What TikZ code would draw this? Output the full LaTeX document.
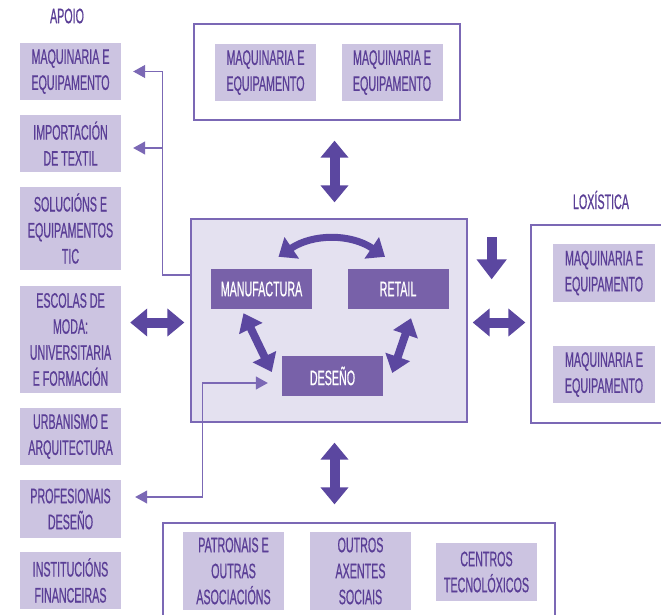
\documentclass[tikz,border=0pt]{standalone}
\usepackage{fontspec}
\setmainfont{Liberation Sans}[FakeStretch=0.51,FakeBold=0.6]
\usetikzlibrary{arrows.meta,calc}
\definecolor{lilac}{HTML}{CCC4E1}
\definecolor{ink}{HTML}{5A3E96}
\definecolor{plum}{HTML}{7861A9}
\definecolor{arrowc}{HTML}{5B47A0}
\definecolor{edge}{HTML}{7B68B5}
\definecolor{mist}{HTML}{E4E1F0}
\newcommand\boxtxt{\fontsize{21}{26}\selectfont}
\tikzset{
	lbox/.style={fill=lilac,text=ink,minimum width=101pt,minimum height=57pt,inner sep=0pt,align=center,font=\boxtxt},
	dbox/.style={fill=plum,text=white,minimum width=101pt,minimum height=40pt,inner sep=0pt,font=\boxtxt},
	frame/.style={draw=edge,line width=1.3pt,inner sep=0pt},
	fat/.style={draw=arrowc,line width=10pt},
	both/.style={{Triangle[width=27pt,length=17pt]}-{Triangle[width=27pt,length=17pt]}},
	link/.style={draw=edge,line width=1.1pt}
}

\begin{document}
\begin{tikzpicture}[x=1pt,y=-1pt]
	\fill[white] (0,0) rectangle (661,615);
	\useasboundingbox (0,0) rectangle (661,615);

	% frames
	\node[frame,minimum width=266pt,minimum height=96pt] (topbox) at (327,72) {};
	\node[frame,fill=mist,minimum width=276pt,minimum height=203pt] (core) at (329,320.5) {};
	\node[frame,minimum width=140pt,minimum height=198pt] (logbox) at (601,324) {};
	\node[frame,minimum width=392pt,minimum height=102pt] (botbox) at (359,574) {};

	% titles
	\node[text=ink,font=\boxtxt] (apoio) at (67,16) {APOIO};
	\node[text=ink,font=\boxtxt] (lox) at (601,200) {LOXÍSTICA};

	% apoio column
	\node[lbox] (maq) at (70.5,71.5) {MAQUINARIA E\\EQUIPAMENTO};
	\node[lbox] (imp) at (70.5,143.5) {IMPORTACIÓN\\DE TEXTIL};
	\node[lbox,minimum height=83pt] (tic) at (70.5,228.5) {SOLUCIÓNS E\\EQUIPAMENTOS\\TIC};
	\node[lbox,minimum height=107pt] (esc) at (70.5,339.5) {ESCOLAS DE\\MODA:\\UNIVERSITARIA\\E FORMACIÓN};
	\node[lbox] (urb) at (70.5,436.5) {URBANISMO E\\ARQUITECTURA};
	\node[lbox,minimum height=58pt] (prof) at (70.5,509) {PROFESIONAIS\\DESEÑO};
	\node[lbox] (fin) at (70.5,580.5) {INSTITUCIÓNS\\FINANCEIRAS};

	% top
	\node[lbox] (topa) at (265.5,72.5) {MAQUINARIA E\\EQUIPAMENTO};
	\node[lbox] (topb) at (392,72.5) {MAQUINARIA E\\EQUIPAMENTO};

	% loxistica
	\node[lbox,minimum width=102pt,minimum height=58pt] (loxa) at (604,273) {MAQUINARIA E\\EQUIPAMENTO};
	\node[lbox,minimum width=102pt] (loxb) at (604,374.5) {MAQUINARIA E\\EQUIPAMENTO};

	% bottom
	\node[lbox,minimum height=78pt] (pat) at (233.5,571) {PATRONAIS E\\OUTRAS\\ASOCIACIÓNS};
	\node[lbox,minimum height=78pt] (axe) at (360.5,571) {OUTROS\\AXENTES\\SOCIAIS};
	\node[lbox,minimum height=58pt] (cen) at (486.5,572) {CENTROS\\TECNOLÓXICOS};

	% core
	\node[dbox] (mf) at (261.5,289) {MANUFACTURA};
	\node[dbox] (rt) at (398,289) {RETAIL};
	\node[dbox] (dn) at (332.5,376) {DESEÑO};

	% fat arrows
	\draw[fat,both,shorten <=20pt,shorten >=16pt] ($(dn.north |- topbox.south)+(2,0)$) -- ($(dn.north |- core.north)+(2,0)$);
	\draw[fat,both,shorten <=20pt,shorten >=18pt] ($(dn.south |- core.south)+(2,0)$) -- ($(dn.south |- botbox.north)+(2,0)$);
	\draw[fat,both,shorten <=9pt,shorten >=6pt] ($(core.west -| esc.east)+(0,2)$) -- ($(core.west)+(0,2)$);
	\draw[fat,both,shorten <=5pt,shorten >=5pt] ($(core.east)+(0,2)$) -- ($(core.east -| logbox.west)+(0,2)$);
	\draw[fat,-{Triangle[width=29pt,length=20pt]}] ($(core.north east)+(24,19)$) -- ++(0,42);
	\draw[fat,line width=7pt,{Triangle[width=25pt,length=16pt]}-{Triangle[width=25pt,length=16pt]}] ($(mf.north)+(17,-12)$) to[bend left=34] ($(rt.north)+(-13,-12)$);
	\draw[fat,line width=8pt,{Triangle[width=25pt,length=17pt]}-{Triangle[width=25pt,length=17pt]}] ($(mf.south)+(-18,4)$) -- ($(dn.west)+(-10,-4)$);
	\draw[fat,line width=8pt,{Triangle[width=25pt,length=17pt]}-{Triangle[width=25pt,length=17pt]}] ($(rt.south)+(13,9)$) -- ($(dn.east)+(9,-3)$);

	% thin links
	\coordinate (tap) at ($(core.west)+(0,-45.5)$);
	\coordinate (knee) at ($(tap)+(-28,0)$);
	\coordinate (impy) at ([yshift=-4.5pt]imp.east);
	\draw[link,-{Triangle[width=13pt,length=12pt]}] (tap) -- (knee) |- ([xshift=12pt]maq.east);
	\draw[link,-{Triangle[width=13pt,length=12pt]}] (knee |- impy) -- ([xshift=12pt]impy);
	\draw[link,{Triangle[width=13pt,length=12pt]}-{Triangle[width=13pt,length=12pt]}] ([xshift=-14pt,yshift=-7pt]dn.west) -- ++(-65,0) |- ([xshift=14pt,yshift=12pt]prof.east);
\end{tikzpicture}
\end{document}
